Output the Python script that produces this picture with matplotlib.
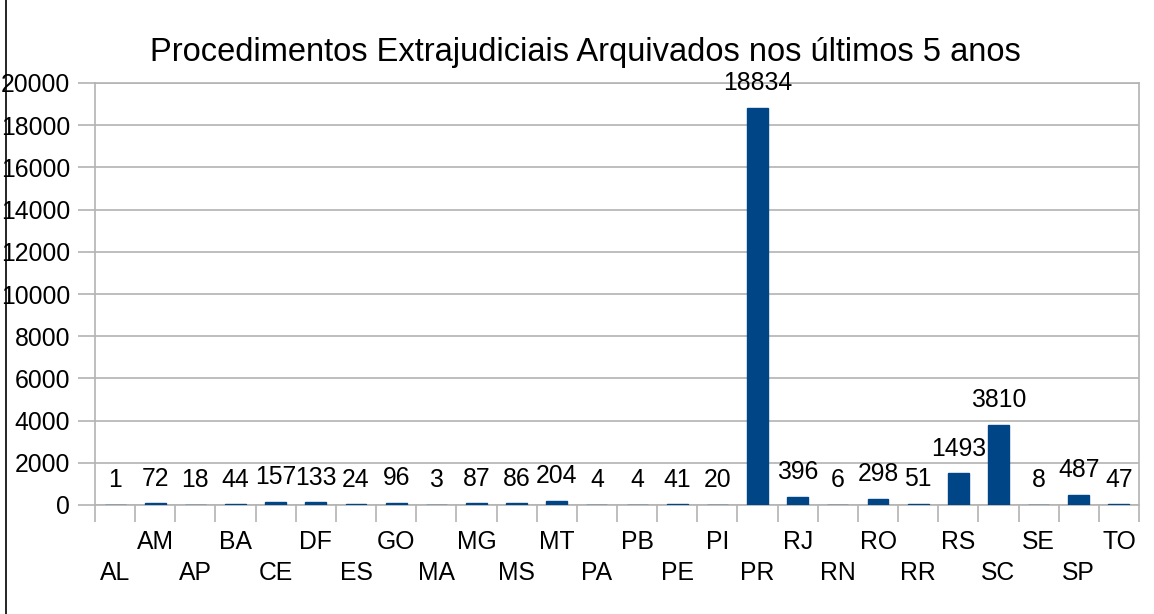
import matplotlib
matplotlib.use("Agg")
import matplotlib.pyplot as plt
from matplotlib.transforms import blended_transform_factory
from matplotlib.lines import Line2D

categories = ["AL", "AM", "AP", "BA", "CE", "DF", "ES", "GO", "MA", "MG", "MS", "MT", "PA",
              "PB", "PE", "PI", "PR", "RJ", "RN", "RO", "RR", "RS", "SC", "SE", "SP", "TO"]
values = [1, 72, 18, 44, 157, 133, 24, 96, 3, 87, 86, 204, 4,
          4, 41, 20, 18834, 396, 6, 298, 51, 1493, 3810, 8, 487, 47]
yticks = list(range(0, 20001, 2000))
title = "Procedimentos Extrajudiciais Arquivados nos últimos 5 anos"

plt.rcParams['font.family'] = ['Liberation Sans', 'DejaVu Sans']
FS = 17.8
grid_c = "#b3b3b3"

fig = plt.figure(figsize=(11.54, 6.14), dpi=100)
ax = fig.add_axes([95/1154, 1 - 505/614, (1139 - 95)/1154, (505 - 83)/614])

n = len(categories)
xs = list(range(n))
ax.bar(xs, values, width=0.52, color="#004586", edgecolor="#004586",
       linewidth=1.0, zorder=3)

ax.set_xlim(-0.5, n - 0.5)
ax.set_ylim(0, 20000)
ax.set_yticks(yticks)
ax.set_yticklabels([str(t) for t in yticks], fontsize=FS)
ax.yaxis.grid(True, color=grid_c, linewidth=1.2, zorder=0)
ax.tick_params(axis='y', length=12, width=1.2, color=grid_c, pad=6)

# category boundary ticks
ax.set_xticks([i - 0.5 for i in range(n + 1)])
ax.set_xticklabels([])
ax.tick_params(axis='x', length=12, width=1.2, color=grid_c)

for s in ["left", "right", "bottom", "top"]:
    ax.spines[s].set_color(grid_c)
    ax.spines[s].set_linewidth(1.2)

trans = blended_transform_factory(ax.transData, ax.transAxes)
for i, (c, v) in enumerate(zip(categories, values)):
    yy = -0.161 if i % 2 == 0 else -0.0877
    ax.text(i, yy, c, transform=trans, ha="center", va="center", fontsize=FS)
    ax.annotate(str(v), (i, v), xytext=(0, 9), textcoords="offset points",
                ha="center", va="bottom", fontsize=FS)

fig.text(585/1154, 1 - 53/614, title, ha="center", va="center", fontsize=23.5)

fig.add_artist(Line2D([5.5/1154, 5.5/1154], [0, 1], color="black", linewidth=1.2,
                      transform=fig.transFigure))

fig.savefig("out.png", dpi=100, facecolor="white")
